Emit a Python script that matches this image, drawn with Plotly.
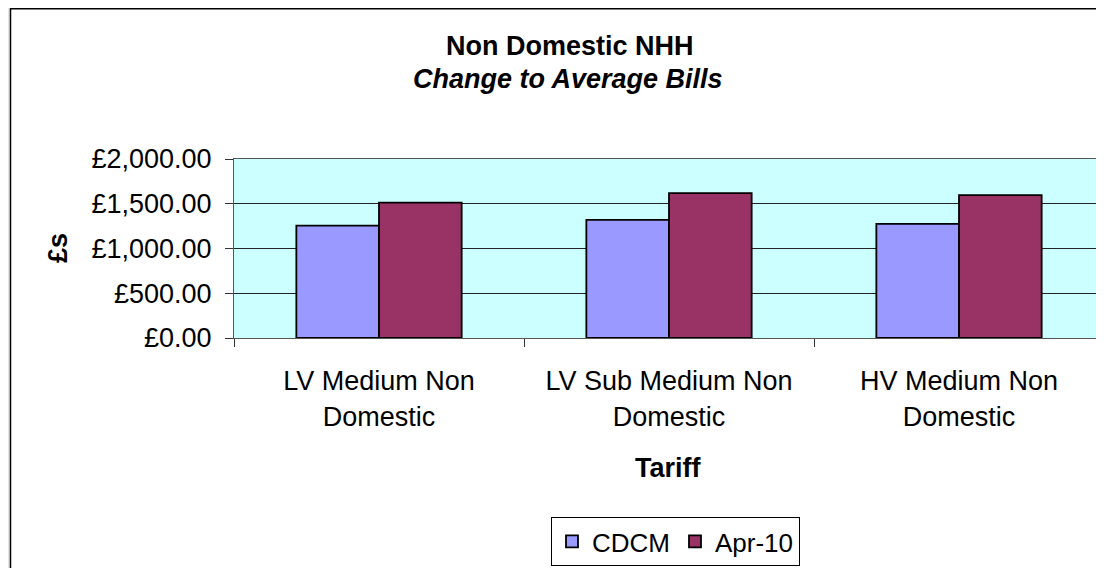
import plotly.graph_objects as go

categories = ["LV Medium Non<br>Domestic", "LV Sub Medium Non<br>Domestic", "HV Medium Non<br>Domestic"]
cdcm = [1256, 1319, 1275]
apr10 = [1513, 1619, 1596]
series_names = ["CDCM", "Apr-10"]
y_ticks = [0, 500, 1000, 1500, 2000]
y_tick_labels = ["£0.00", "£500.00", "£1,000.00", "£1,500.00", "£2,000.00"]

# page places the figure 8px in from the top-left corner (default body margin)
OFF = 8
W, H = 1104 - OFF, 568 - OFF
ML, MT = 234 - OFF, 159 - OFF
MR = 0
MB = H - (338 - OFF)
PW = W - ML - MR
PH = H - MT - MB


def px_x(sx):
    return (sx - OFF - ML) / PW


def px_y(sy):
    return (H - MB - (sy - OFF)) / PH


FONT = "Liberation Sans, Arial, sans-serif"
FS = 27

fig = go.Figure()
fig.add_trace(go.Bar(name=series_names[0], x=categories, y=cdcm,
                     marker=dict(color="#9999FF", line=dict(color="black", width=1.8))))
fig.add_trace(go.Bar(name=series_names[1], x=categories, y=apr10,
                     marker=dict(color="#993366", line=dict(color="black", width=1.8))))

fig.update_layout(
    width=W, height=H,
    margin=dict(l=ML, r=MR, t=MT, b=MB, autoexpand=False),
    paper_bgcolor="white", plot_bgcolor="#CCFFFF",
    barmode="group", bargap=0.43, bargroupgap=0,
    font=dict(family=FONT, size=FS, color="black"),
    showlegend=True,
    legend=dict(orientation="h", x=px_x(675.5), xanchor="center", y=px_y(517), yanchor="top",
                bordercolor="black", borderwidth=1, bgcolor="white", font=dict(size=26),
                traceorder="normal"),
    xaxis=dict(type="category", tickson="boundaries", ticks="outside", ticklen=8, tickcolor="#333",
               showline=True, linecolor="#555", linewidth=1, mirror=True, showgrid=False,
               tickfont=dict(size=FS), ticklabelstandoff=19),
    yaxis=dict(range=[0, 2000], tickmode="array", tickvals=y_ticks, ticktext=y_tick_labels,
               ticks="outside", ticklen=8, tickcolor="#333", showline=True, linecolor="#555",
               linewidth=1, showgrid=True, gridcolor="#222", gridwidth=1, zeroline=False,
               tickfont=dict(size=FS), ticklabelstandoff=8),
    annotations=[
        dict(text="<b>Non Domestic NHH</b>", x=px_x(570), y=px_y(46), xref="paper", yref="paper",
             showarrow=False, font=dict(size=FS), xanchor="center", yanchor="middle"),
        dict(text="<b><i>Change to Average Bills</i></b>", x=px_x(568), y=px_y(79), xref="paper",
             yref="paper", showarrow=False, font=dict(size=FS), xanchor="center", yanchor="middle"),
        dict(text="<b>£s</b>", x=px_x(57.5), y=px_y(248.5), xref="paper", yref="paper",
             textangle=-90, showarrow=False, font=dict(size=FS), xanchor="center", yanchor="middle"),
        dict(text="<b>Tariff</b>", x=px_x(668), y=px_y(467.5), xref="paper", yref="paper",
             showarrow=False, font=dict(size=FS), xanchor="center", yanchor="middle"),
    ],
    shapes=[
        dict(type="rect", xref="paper", yref="paper", x0=px_x(0), x1=px_x(10), y0=px_y(600), y1=px_y(0),
             fillcolor="#e4e6e6", line=dict(width=0), layer="below"),
        dict(type="line", xref="paper", yref="paper", x0=px_x(10.5), x1=px_x(10.5), y0=px_y(600), y1=px_y(8.5),
             line=dict(color="black", width=1.5)),
        dict(type="line", xref="paper", yref="paper", x0=px_x(10), x1=px_x(1200), y0=px_y(8.7), y1=px_y(8.7),
             line=dict(color="black", width=1.5)),
    ],
)

fig.write_html("out.html")
